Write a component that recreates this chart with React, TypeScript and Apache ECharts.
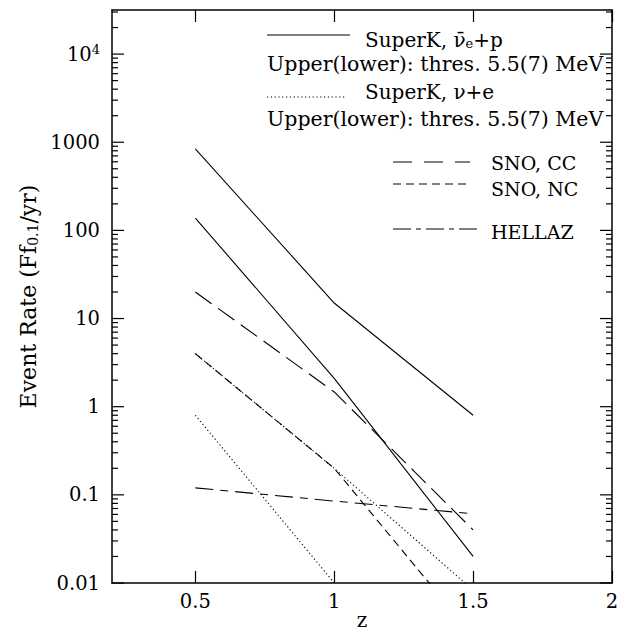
import React, { useEffect, useRef } from "react";
import * as echarts from "echarts";

// ---- data ----
const zValues = [0.5, 1, 1.5];
const superKpUpper = [840, 15, 0.8];
const superKpLower = [138, 2.1, 0.02];
const superKeUpper = [4, 0.2, 0.0083];
const superKeLower = [0.8, 0.01];
const snoCC = [20, 1.47, 0.04];
const snoNC = [4, 0.2, 0.0025];
const hellaz = [0.12, 0.085, 0.061];

const X_MIN = 0.2;
const X_MAX = 2;
const Y_MIN = 0.01;
const Y_MAX = 31622.7766;
const xTicks = [0.5, 1, 1.5, 2];
const xTickLabels = ["0.5", "1", "1.5", "2"];
const yTicks = [0.01, 0.1, 1, 10, 100, 1000, 10000];
const yTickLabels = ["0.01", "0.1", "1", "10", "100", "1000", "10{sup|4}"];
const yMinorTicks: number[] = [];
for (let e = -2; e <= 4; e++) {
  for (let m = 2; m <= 9; m++) {
    const v = m * Math.pow(10, e);
    if (v < Y_MAX) yMinorTicks.push(v);
  }
}

const FONT = "DejaVu Serif";
const pts = (ys: number[]) => ys.map((y, i) => [zValues[i], y]);

const legendGraphic: any[] = [
  { type: "line", shape: { x1: 267, y1: 35, x2: 350, y2: 35 }, style: { stroke: "#000", lineWidth: 1.1 } },
  {
    type: "text", x: 365, y: 40,
    style: {
      text: "SuperK, \u03bd\u0304{sub|e}+p", fontFamily: FONT, fontSize: 20, fill: "#000", verticalAlign: "middle",
      rich: { sub: { fontFamily: FONT, fontSize: 13, verticalAlign: "bottom", lineHeight: 14, padding: [5, 0, 0, 0] } },
    },
  },
  { type: "text", x: 267, y: 64, style: { text: "Upper(lower): thres. 5.5(7) MeV", fontFamily: FONT, fontSize: 20.5, fill: "#000", verticalAlign: "middle" } },
  { type: "line", shape: { x1: 267, y1: 97, x2: 345, y2: 97 }, style: { stroke: "#000", lineWidth: 1.1, lineDash: [1.2, 2.6] } },
  { type: "text", x: 365, y: 92, style: { text: "SuperK, \u03bd+e", fontFamily: FONT, fontSize: 20, fill: "#000", verticalAlign: "middle" } },
  { type: "text", x: 267, y: 119, style: { text: "Upper(lower): thres. 5.5(7) MeV", fontFamily: FONT, fontSize: 20.5, fill: "#000", verticalAlign: "middle" } },
  { type: "line", shape: { x1: 393, y1: 162, x2: 470, y2: 162 }, style: { stroke: "#000", lineWidth: 1.1, lineDash: [19, 12] } },
  { type: "text", x: 491, y: 163, style: { text: "SNO, CC", fontFamily: FONT, fontSize: 19, fill: "#000", verticalAlign: "middle" } },
  { type: "line", shape: { x1: 393, y1: 184, x2: 470, y2: 184 }, style: { stroke: "#000", lineWidth: 1.1, lineDash: [8, 5] } },
  { type: "text", x: 491, y: 189, style: { text: "SNO, NC", fontFamily: FONT, fontSize: 19, fill: "#000", verticalAlign: "middle" } },
  { type: "line", shape: { x1: 393, y1: 229, x2: 477, y2: 229 }, style: { stroke: "#000", lineWidth: 1.1, lineDash: [18, 5, 5, 5] } },
  { type: "text", x: 491, y: 232, style: { text: "HELLAZ", fontFamily: FONT, fontSize: 19, fill: "#000", verticalAlign: "middle" } },
];

export default function App() {
  const ref = useRef<HTMLDivElement>(null);
  useEffect(() => {
    if (!ref.current) return;
    const chart = echarts.init(ref.current, null, { renderer: "svg" });
    const lineStyle = (dash: any) => ({ color: "#000", width: 1.1, type: dash });
    const yBase = {
      type: "log" as const,
      min: Y_MIN,
      max: Y_MAX,
      splitLine: { show: false },
      minorTick: { show: false },
    };
    const option: any = {
      animation: false,
      backgroundColor: "#fff",
      grid: { left: 112, right: 16, top: 10, bottom: 48, containLabel: false, outerBoundsMode: "none" },
      xAxis: [
        {
          type: "value",
          min: X_MIN,
          max: X_MAX,
          position: "bottom",
          name: "z",
          nameLocation: "middle",
          nameGap: 27,
          nameMoveOverlap: false,
          nameTextStyle: { fontFamily: FONT, fontSize: 20, color: "#000" },
          axisLine: { show: true, lineStyle: { color: "#000", width: 1.5 } },
          axisTick: { show: true, inside: true, length: 12, customValues: xTicks, lineStyle: { color: "#000", width: 1.2 } },
          axisLabel: {
            show: true,
            customValues: xTicks,
            margin: 8,
            fontFamily: FONT,
            fontSize: 19.5,
            color: "#000",
            formatter: (v: number) => {
              const i = xTicks.findIndex((t) => Math.abs(t - v) < 1e-6);
              return i >= 0 ? xTickLabels[i] : "";
            },
          },
          splitLine: { show: false },
        },
        {
          type: "value",
          min: X_MIN,
          max: X_MAX,
          position: "top",
          axisLine: { show: true, lineStyle: { color: "#000", width: 1.5 } },
          axisTick: { show: true, inside: true, length: 12, customValues: xTicks, lineStyle: { color: "#000", width: 1.2 } },
          axisLabel: { show: false },
          splitLine: { show: false },
        },
      ],
      yAxis: [
        {
          ...yBase,
          position: "left",
          name: "Event Rate (Ff{sub|0.1}/yr)",
          nameLocation: "middle",
          nameRotate: 90,
          nameGap: 72,
          nameMoveOverlap: false,
          nameTextStyle: {
            fontFamily: FONT,
            fontSize: 22,
            color: "#000",
            rich: { sub: { fontFamily: FONT, fontSize: 14, verticalAlign: "bottom", padding: [9, 0, 0, 0] } },
          },
          axisLine: { show: true, lineStyle: { color: "#000", width: 1.5 } },
          axisTick: { show: false },
          axisLabel: {
            show: true,
            customValues: yTicks,
            margin: 12,
            fontFamily: FONT,
            fontSize: 19.5,
            color: "#000",
            formatter: (v: number) => {
              const i = Math.round(Math.log10(v)) + 2;
              return yTickLabels[i] ?? "";
            },
            rich: { sup: { fontFamily: FONT, fontSize: 13, verticalAlign: "top", padding: [0, 0, 10, 0] } },
          },
        },
        {
          ...yBase,
          position: "right",
          axisLine: { show: true, lineStyle: { color: "#000", width: 1.5 } },
          axisTick: { show: false },
          axisLabel: { show: false },
        },
      ],
      series: [
        { name: "SuperK p upper", data: pts(superKpUpper), lineStyle: lineStyle("solid") },
        { name: "SuperK p lower", data: pts(superKpLower), lineStyle: lineStyle("solid") },
        { name: "SuperK e upper", data: pts(superKeUpper), lineStyle: lineStyle([1.2, 2.6]) },
        { name: "SuperK e lower", data: pts(superKeLower), lineStyle: lineStyle([1.2, 2.6]) },
        { name: "SNO CC", data: pts(snoCC), lineStyle: lineStyle([20, 8]) },
        { name: "SNO NC", data: pts(snoNC), lineStyle: lineStyle([8, 5]) },
        { name: "HELLAZ", data: pts(hellaz), lineStyle: lineStyle([18, 7, 8, 7]) },
      ].map((s) => ({
        ...s,
        type: "line",
        xAxisIndex: 0,
        yAxisIndex: 0,
        showSymbol: false,
        symbol: "none",
        clip: true,
        silent: true,
      })),
      graphic: legendGraphic,
    };
    chart.setOption(option);

    // y-axis major/minor ticks on both sides, positioned through the chart's own scale
    const tickGraphic: any[] = [];
    const addTick = (v: number, len: number) => {
      const pL = chart.convertToPixel({ gridIndex: 0 }, [X_MIN, v]) as number[];
      const pR = chart.convertToPixel({ gridIndex: 0 }, [X_MAX, v]) as number[];
      if (!pL || !pR || !isFinite(pL[1])) return;
      const st = { stroke: "#000", lineWidth: 1.2 };
      tickGraphic.push({ type: "line", silent: true, shape: { x1: pL[0], y1: pL[1], x2: pL[0] + len, y2: pL[1] }, style: st });
      tickGraphic.push({ type: "line", silent: true, shape: { x1: pR[0], y1: pR[1], x2: pR[0] - len, y2: pR[1] }, style: st });
    };
    yTicks.forEach((v) => addTick(v, 12));
    yMinorTicks.forEach((v) => addTick(v, 6));
    chart.setOption({ graphic: [...legendGraphic, ...tickGraphic] });

    return () => chart.dispose();
  }, []);
  return (
    <div
      ref={ref}
      style={{ position: "fixed", left: 0, top: 0, width: 628, height: 631, background: "#fff" }}
    />
  );
}
